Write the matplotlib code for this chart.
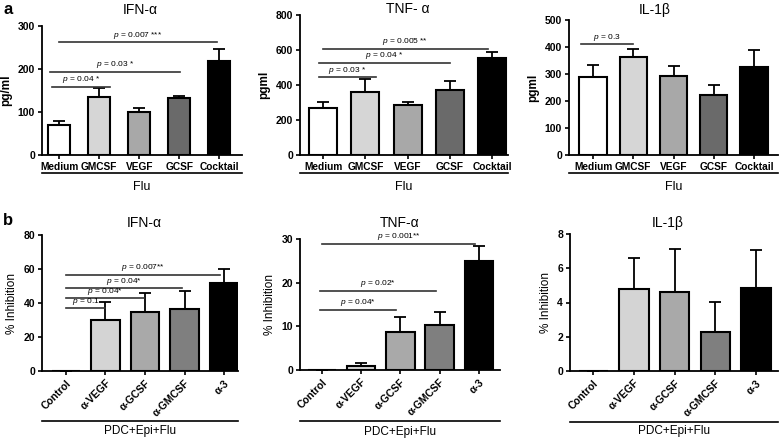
import numpy as np
import matplotlib
matplotlib.use('Agg')
import matplotlib.pyplot as plt

plt.rcParams['font.family'] = ['Liberation Sans', 'DejaVu Sans']
plt.rcParams['mathtext.fontset'] = 'custom'
plt.rcParams['mathtext.it'] = 'Liberation Sans:italic'

# ---- data ----
top_cats = ['Medium', 'GMCSF', 'VEGF', 'GCSF', 'Cocktail']
top_colors = ['white', '#d6d6d6', '#a8a8a8', '#6a6a6a', 'black']

ifn_vals = [70, 136, 100, 132, 219]
ifn_err = [8, 19, 10, 5, 27]
ifn_sig = [(-0.18, 1.27, 159, 'p = 0.04 *'),
           (-0.23, 3.03, 194, 'p = 0.03 *'),
           (0.0, 3.94, 262, 'p = 0.007 ***')]

tnf_vals = [270, 358, 286, 371, 552]
tnf_err = [31, 76, 19, 54, 38]
tnf_sig = [(-0.1, 1.25, 444, 'p = 0.03 *'),
           (-0.1, 3.0, 528, 'p = 0.04 *'),
           (0.0, 3.9, 606, 'p = 0.005 **')]

il1_vals = [290, 363, 292, 222, 327]
il1_err = [43, 30, 39, 37, 62]
il1_sig = [(-0.3, 0.98, 410, 'p = 0.3')]

bot_cats = ['Control', 'α-VEGF', 'α-GCSF', 'α-GMCSF', 'α-3']
bot_colors = ['white', '#d4d4d4', '#a9a9a9', '#7f7f7f', 'black']

ifn_inh = [0, 30.0, 34.9, 36.3, 51.6]
ifn_inh_err = [0, 10.8, 11.1, 10.7, 8.2]
ifn_inh_sig = [(0, 1.0, 36.9, 'p = 0.1'),
               (0, 1.98, 42.7, 'p = 0.04*'),
               (0, 2.94, 48.6, 'p = 0.04*'),
               (0, 3.9, 56.5, 'p = 0.007**')]

tnf_inh = [0, 0.9, 8.6, 10.3, 25.0]
tnf_inh_err = [0, 0.8, 3.5, 2.9, 3.5]
tnf_inh_sig = [(-0.06, 1.9, 13.8, 'p = 0.04*'),
               (-0.06, 2.9, 18.1, 'p = 0.02*'),
               (0, 3.9, 28.9, 'p = 0.001**')]

il1_inh = [0, 4.78, 4.6, 2.26, 4.82]
il1_inh_err = [0, 1.83, 2.5, 1.76, 2.24]
il1_inh_sig = []

W, H = 782, 440
fig = plt.figure(figsize=(W / 100, H / 100), dpi=100)


def px_axes(x0, x1, ytop, ybot):
    return fig.add_axes([x0 / W, 1 - ybot / H, (x1 - x0) / W, (ybot - ytop) / H])


def draw(ax, cats, vals, errs, colors, width, xlim, ylim, yticks, ylabel,
         sig, rotate, group, rule_y, group_y, ylabel_bold):
    x = np.arange(len(cats))
    ax.bar(x, vals, width=width, color=colors, edgecolor='black', linewidth=1.5, zorder=3)
    ax.errorbar(x, vals, yerr=[np.zeros(len(vals)), errs], fmt='none', ecolor='black',
                elinewidth=1.3, capsize=4, capthick=1.3, zorder=2)
    ax.set_xlim(*xlim)
    ax.set_ylim(*ylim)
    ax.set_yticks(yticks)
    ax.set_yticklabels([str(t) for t in yticks], fontsize=7.5, fontweight='bold')
    ax.set_xticks(x)
    if rotate:
        ax.set_xticklabels(cats, rotation=45, ha='right', rotation_mode='anchor',
                           fontsize=7.5, fontweight='bold')
    else:
        ax.set_xticklabels(cats, fontsize=7.3, fontweight='bold')
    ax.tick_params(axis='both', direction='out', length=3, width=1.2, pad=2)
    for s in ['top', 'right']:
        ax.spines[s].set_visible(False)
    for s in ['left', 'bottom']:
        ax.spines[s].set_linewidth(1.3)
    ax.set_ylabel(ylabel, fontsize=8.5, fontweight='bold' if ylabel_bold else 'normal', labelpad=4)
    for x0, x1, yv, txt in sig:
        ax.plot([x0, x1], [yv, yv], color='#333333', lw=1.2, clip_on=False)
        lab = txt.replace('p', r'$p$', 1)
        ax.text((x0 + x1) / 2, yv + (ylim[1] - ylim[0]) * 0.012, lab, fontsize=6,
                ha='center', va='bottom')
    ax.plot([0.0, 1.0], [rule_y, rule_y], transform=ax.transAxes, color='black',
            lw=1.2, clip_on=False)
    ax.text(0.5, group_y, group, transform=ax.transAxes, ha='center', va='center',
            fontsize=8.5 if rotate else 9)


# top row
ax1 = px_axes(42, 242, 26, 155)
draw(ax1, top_cats, ifn_vals, ifn_err, top_colors, 0.55, (-0.43, 4.57), (0, 300),
     [0, 100, 200, 300], 'pg/ml', ifn_sig, False, 'Flu', -0.14, -0.25, True)
ax2 = px_axes(300, 508, 15, 155)
draw(ax2, top_cats, tnf_vals, tnf_err, top_colors, 0.66, (-0.55, 4.38), (0, 800),
     [0, 200, 400, 600, 800], 'pgml', tnf_sig, False, 'Flu', -0.13, -0.23, True)
ax3 = px_axes(569, 778, 20, 155)
draw(ax3, top_cats, il1_vals, il1_err, top_colors, 0.68, (-0.6, 4.6), (0, 500),
     [0, 100, 200, 300, 400, 500], 'pgml', il1_sig, False, 'Flu', -0.13, -0.24, True)

# bottom row
ax4 = px_axes(42, 238, 235, 371)
draw(ax4, bot_cats, ifn_inh, ifn_inh_err, bot_colors, 0.72, (-0.6, 4.35), (0, 80),
     [0, 20, 40, 60, 80], '% Inhibition', ifn_inh_sig, True, 'PDC+Epi+Flu',
     -0.37, -0.44, False)
ax5 = px_axes(300, 500, 239, 370)
draw(ax5, bot_cats, tnf_inh, tnf_inh_err, bot_colors, 0.72, (-0.56, 4.54), (0, 30),
     [0, 10, 20, 30], '% Inhibition', tnf_inh_sig, True, 'PDC+Epi+Flu',
     -0.39, -0.47, False)
ax6 = px_axes(570, 778, 234, 371)
draw(ax6, bot_cats, il1_inh, il1_inh_err, bot_colors, 0.72, (-0.57, 4.54), (0, 8),
     [0, 2, 4, 6, 8], '% Inhibition', il1_inh_sig, True, 'PDC+Epi+Flu',
     -0.37, -0.44, False)

# panel titles, placed by pixel
titles = [('IFN-α', 140, 10), ('TNF- α', 408, 9), ('IL-1β', 655, 10),
          ('IFN-α', 144, 223), ('TNF-α', 400, 223), ('IL-1β', 668, 223)]
for txt, tx, ty in titles:
    fig.text(tx / W, 1 - ty / H, txt, fontsize=10, ha='center', va='center')

fig.text(3 / W, 1 - 9 / H, 'a', fontsize=12, fontweight='bold', va='center')
fig.text(3 / W, 1 - 220 / H, 'b', fontsize=12, fontweight='bold', va='center')

fig.savefig('out.png', dpi=100)
